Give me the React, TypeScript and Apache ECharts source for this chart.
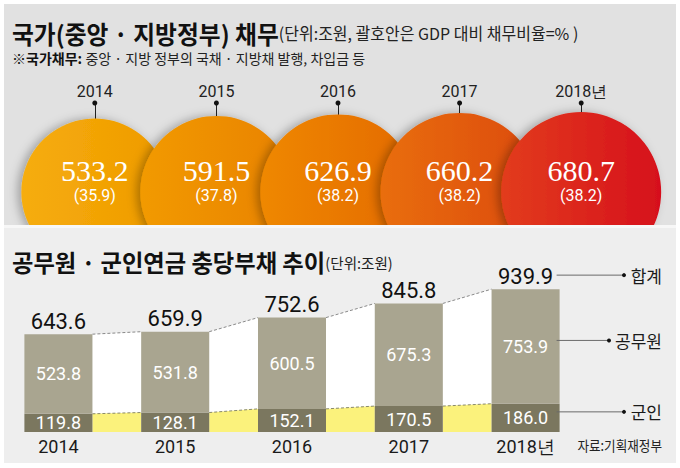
import React, { useEffect, useRef } from "react";
import * as echarts from "echarts";

// ---- data ----
const years = ["2014", "2015", "2016", "2017", "2018년"];
const debt = [533.2, 591.5, 626.9, 660.2, 680.7];
const debtGdp = [35.9, 37.8, 38.2, 38.2, 38.2];
const total = [643.6, 659.9, 752.6, 845.8, 939.9];
const civil = [523.8, 531.8, 600.5, 675.3, 753.9];
const military = [119.8, 128.1, 152.1, 170.5, 186.0];

// ---- styles ----
const circleColors = [
  ["#f6ad0c", "#ef9a00"],
  ["#f29a04", "#e98200"],
  ["#ef8804", "#e46a00"],
  ["#e96e0a", "#dc4a10"],
  ["#e23c1a", "#d6101c"],
];
const BAR_W = 68;
const NUM_FONT = "Roboto, 'Liberation Sans', sans-serif";
const KR_FONT = "'Noto Sans CJK KR', 'Noto Sans', sans-serif";

export default function App() {
  const ref = useRef<HTMLDivElement>(null);

  useEffect(() => {
    if (!ref.current) return;
    const chart = echarts.init(ref.current, null, { renderer: "svg" });

    const option: any = {
      animation: false,
      backgroundColor: "#ffffff",
      grid: [
        { left: 34, right: 38, top: 103, bottom: 276 },
        { left: 0, right: 96, top: 280, bottom: 36 },
      ],
      xAxis: [
        {
          type: "category",
          gridIndex: 0,
          position: "top",
          data: years,
          axisLine: { show: false, onZero: false },
          axisTick: {
            show: true,
            inside: true,
            length: 24,
            alignWithLabel: true,
            lineStyle: { color: "#222", width: 1 },
          },
          axisLabel: { margin: 4, fontSize: 16, color: "#222", fontFamily: NUM_FONT },
        },
        {
          type: "category",
          gridIndex: 1,
          data: years,
          z: 10,
          axisLine: { show: false, onZero: false },
          axisTick: { show: false },
          axisLabel: { margin: 5, fontSize: 18, color: "#1a1a1a", fontFamily: NUM_FONT },
        },
      ],
      yAxis: [
        { type: "value", gridIndex: 0, min: 0, max: 1, show: false },
        { type: "value", gridIndex: 1, min: 0, max: 1000, show: false },
      ],
      series: [
        {
          type: "scatter",
          xAxisIndex: 0,
          yAxisIndex: 0,
          symbol: "circle",
          clip: false,
          symbolSize: (v: number[]) => 100 + v[2] * 0.088,
          z: 2,
          data: debt.map((d, i) => ({
            value: [i, 0, d],
            itemStyle: {
              opacity: 1,
              color: new echarts.graphic.LinearGradient(0, 0, 1, 0, [
                { offset: 0, color: circleColors[i][0] },
                { offset: 1, color: circleColors[i][1] },
              ]),
              shadowBlur: 10,
              shadowOffsetX: -4,
              shadowColor: "rgba(0,0,0,0.28)",
            },
          })),
          label: {
            show: true,
            position: "inside",
            offset: [0, -13],
            formatter: (p: any) =>
              `{a|${debt[p.dataIndex].toFixed(1)}}\n{b|(${debtGdp[p.dataIndex].toFixed(1)})}`,
            rich: {
              a: {
                fontFamily: "'Liberation Serif', 'DejaVu Serif', serif",
                fontSize: 30,
                color: "#ffffff",
                lineHeight: 33,
              },
              b: {
                fontFamily: NUM_FONT,
                fontSize: 16,
                color: "#ffffff",
                lineHeight: 17,
              },
            },
          },
        },
        {
          type: "scatter",
          xAxisIndex: 0,
          yAxisIndex: 0,
          symbolSize: 5,
          clip: false,
          z: 3,
          itemStyle: { color: "#111", opacity: 1 },
          data: years.map((_, i) => [i, 1]),
        },
        {
          type: "custom",
          xAxisIndex: 1,
          yAxisIndex: 1,
          z: 8,
          data: years.slice(0, -1).map((_, i) => [i, total[i], military[i], total[i + 1], military[i + 1]]),
          encode: { x: 0, y: 1 },
          renderItem: (params: any, api: any) => {
            const i = api.value(0);
            const hw = BAR_W / 2;
            const a = api.coord([i, api.value(1)]);
            const b = api.coord([i + 1, api.value(3)]);
            const ma = api.coord([i, api.value(2)]);
            const mb = api.coord([i + 1, api.value(4)]);
            const z0 = api.coord([i, 0]);
            const x1 = a[0] + hw;
            const x2 = b[0] - hw;
            return {
              type: "group",
              children: [
                {
                  type: "polygon",
                  shape: { points: [[x1, a[1]], [x2, b[1]], [x2, mb[1]], [x1, ma[1]]] },
                  style: { fill: "#ffffff" },
                },
                {
                  type: "polygon",
                  shape: { points: [[x1, ma[1]], [x2, mb[1]], [x2, z0[1]], [x1, z0[1]]] },
                  style: { fill: "#fbf27c" },
                },
                {
                  type: "line",
                  shape: { x1, y1: a[1], x2, y2: b[1] },
                  style: { stroke: "#8a8a8a", lineWidth: 1, lineDash: [3, 2] },
                },
                {
                  type: "line",
                  shape: { x1, y1: ma[1], x2, y2: mb[1] },
                  style: { stroke: "#8a8a6a", lineWidth: 1, lineDash: [3, 2] },
                },
              ],
            };
          },
        },
        {
          name: "군인",
          type: "bar",
          xAxisIndex: 1,
          yAxisIndex: 1,
          stack: "a",
          barWidth: BAR_W,
          barGap: "-100%",
          z: 10,
          itemStyle: { color: "#7b775f" },
          label: {
            show: true,
            position: "inside",
            color: "#ffffff",
            fontSize: 18,
            fontFamily: NUM_FONT,
            formatter: (p: any) => military[p.dataIndex].toFixed(1),
          },
          data: military,
        },
        {
          name: "공무원",
          type: "bar",
          xAxisIndex: 1,
          yAxisIndex: 1,
          stack: "a",
          barWidth: BAR_W,
          barGap: "-100%",
          z: 10,
          itemStyle: { color: "#a9a590" },
          label: {
            show: true,
            position: "inside",
            color: "#ffffff",
            fontSize: 18,
            fontFamily: NUM_FONT,
            formatter: (p: any) => civil[p.dataIndex].toFixed(1),
          },
          data: civil,
        },
        {
          name: "합계",
          type: "bar",
          xAxisIndex: 1,
          yAxisIndex: 1,
          barWidth: BAR_W,
          barGap: "-100%",
          z: 9,
          itemStyle: { color: "rgba(0,0,0,0)" },
          label: {
            show: true,
            position: "top",
            distance: 2,
            color: "#111",
            fontSize: 22,
            fontFamily: NUM_FONT,
            formatter: (p: any) => total[p.dataIndex].toFixed(1),
          },
          data: total,
        },
      ],
    };

    chart.setOption(option);

    // annotation positions from the bar chart's own scale
    const last = years.length - 1;
    const pTop = chart.convertToPixel({ gridIndex: 1 } as any, [last, total[last]]) as number[];
    const pMil = chart.convertToPixel({ gridIndex: 1 } as any, [last, military[last]]) as number[];
    const pZero = chart.convertToPixel({ gridIndex: 1 } as any, [last, 0]) as number[];
    const lx = pTop[0] + BAR_W / 2 - 3;
    const yTot = pTop[1] - 14;
    const yCiv = (pTop[1] + pMil[1]) / 2 - 6;
    const yMil = (pMil[1] + pZero[1]) / 2 - 6;
    const textRight = 662;

    const annot = (y: number, label: string, textW: number) => {
      const dotX = textRight - textW - 7;
      return [
        {
          type: "line",
          z: 20,
          shape: { x1: lx, y1: y, x2: dotX, y2: y },
          style: { stroke: "#6a6a6a", lineWidth: 1 },
        },
        {
          type: "circle",
          z: 20,
          shape: { cx: dotX, cy: y, r: 2 },
          style: { fill: "#111" },
        },
        {
          type: "text",
          z: 20,
          x: textRight,
          y: y,
          style: {
            text: label,
            fontSize: 17,
            fontFamily: KR_FONT,
            fill: "#1a1a1a",
            textAlign: "right",
            textVerticalAlign: "middle",
          },
        },
      ];
    };

    const graphic: any[] = [
      { type: "rect", z: -10, shape: { x: 4, y: 4, width: 672, height: 222 }, style: { fill: "#e1e1e1" } },
      { type: "rect", z: 5, shape: { x: 4, y: 225, width: 672, height: 3 }, style: { fill: "#f7f7f7" } },
      { type: "rect", z: 5, shape: { x: 4, y: 228, width: 672, height: 235 }, style: { fill: "#eeeeee" } },
      {
        type: "text",
        z: 20,
        x: 12,
        y: 33,
        scaleX: 0.97,
        style: {
          text: "{t|국가(중앙 · 지방정부) 채무}{s|(단위:조원, 괄호안은 GDP 대비 채무비율=% )}",
          textVerticalAlign: "middle",
          rich: {
            t: { fontSize: 24.5, fontWeight: "bold", fontFamily: KR_FONT, fill: "#111" },
            s: { fontSize: 16.5, fontFamily: KR_FONT, fill: "#222" },
          },
        },
      },
      {
        type: "text",
        z: 20,
        x: 12,
        y: 58,
        style: {
          text: "{t|※국가채무:} {s|중앙 · 지방 정부의 국채 · 지방채 발행, 차입금 등}",
          textVerticalAlign: "middle",
          rich: {
            t: { fontSize: 14, fontWeight: "bold", fontFamily: KR_FONT, fill: "#111" },
            s: { fontSize: 14, fontFamily: KR_FONT, fill: "#222" },
          },
        },
      },
      {
        type: "text",
        z: 20,
        x: 12,
        y: 262,
        scaleX: 0.97,
        style: {
          text: "{t|공무원 · 군인연금 충당부채 추이}{s|(단위:조원)}",
          textVerticalAlign: "middle",
          rich: {
            t: { fontSize: 24, fontWeight: "bold", fontFamily: KR_FONT, fill: "#111" },
            s: { fontSize: 15, fontFamily: KR_FONT, fill: "#222" },
          },
        },
      },
      {
        type: "text",
        z: 20,
        x: textRight,
        y: 445,
        scaleX: 0.9,
        style: {
          text: "자료:기획재정부",
          fontSize: 14,
          fontFamily: KR_FONT,
          fill: "#222",
          textAlign: "right",
          textVerticalAlign: "middle",
        },
      },
      ...annot(yTot, "합계", 31),
      ...annot(yCiv, "공무원", 46),
      ...annot(yMil, "군인", 31),
    ];

    chart.setOption({ graphic });

    return () => {
      chart.dispose();
    };
  }, []);

  return (
    <div
      ref={ref}
      style={{ position: "absolute", left: 0, top: 0, width: 680, height: 468 }}
    />
  );
}
